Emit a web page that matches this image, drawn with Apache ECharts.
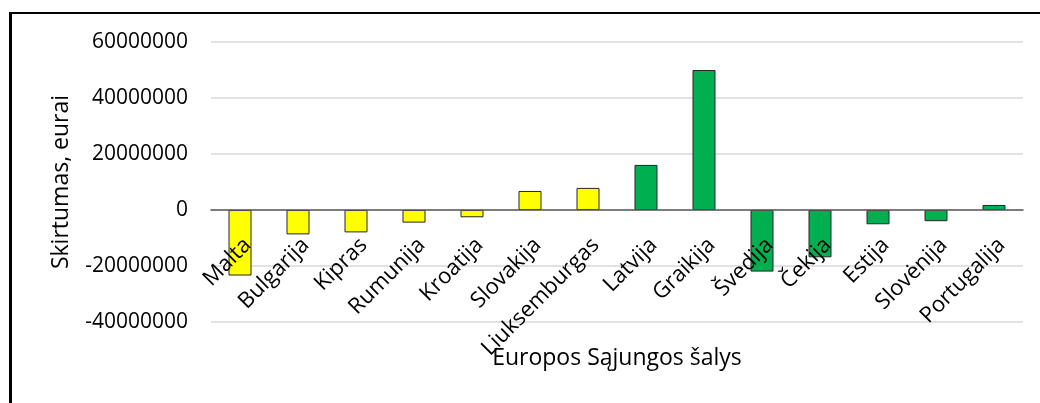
<!DOCTYPE html>
<html>
<head>
<meta charset="utf-8">
<script src="https://cdn.jsdelivr.net/npm/echarts@6/dist/echarts.min.js"></script>
<style>
  html, body { margin: 0; padding: 0; background: #fff; }
  #wrap { position: relative; width: 1040px; height: 403px; overflow: hidden; }
  #frame { position: absolute; left: 9px; top: 12px; width: 1100px; height: 500px;
           border-left: 3px solid #000; border-top: 2px solid #000; }
  #main { position: absolute; left: 0; top: 0; width: 1040px; height: 403px; }
</style>
</head>
<body>
<div id="wrap">
  <div id="frame"></div>
  <div id="main"></div>
</div>
<script>
// šalys ir skirtumai (eurai)
var salys = ["Malta", "Bulgarija", "Kipras", "Rumunija", "Kroatija", "Slovakija", "Liuksemburgas",
  "Latvija", "Graikija", "Švedija", "Čekija", "Estija", "Slovėnija", "Portugalija"];
var skirtumai = [-23400000, -8700000, -8000000, -4500000, -2600000, 6800000, 7900000,
  16100000, 50000000, -22000000, -16900000, -5100000, -4000000, 1800000];
// pirmos 7 šalys geltonos, kitos žalios
var spalvos = ["#ffff00", "#ffff00", "#ffff00", "#ffff00", "#ffff00", "#ffff00", "#ffff00",
  "#00b050", "#00b050", "#00b050", "#00b050", "#00b050", "#00b050", "#00b050"];

var font = "'Open Sans', 'Noto Sans', sans-serif";
var myChart = echarts.init(document.getElementById("main"));
myChart.setOption({
  animation: false,
  grid: { left: 211, right: 17, top: 42, bottom: 81, containLabel: false, outerBoundsMode: "none" },
  xAxis: {
    type: "category",
    data: salys,
    z: 5,
    // ašis ties nuliu (y = 210)
    offset: -112,
    name: "Europos Sąjungos šalys",
    nameLocation: "middle",
    nameGap: 137,
    nameMoveOverlap: false,
    nameTextStyle: { fontFamily: font, fontSize: 23, color: "#000" },
    axisLine: { onZero: false, lineStyle: { color: "#595959", width: 1.5 } },
    axisTick: { show: false },
    axisLabel: {
      rotate: 45, margin: 24, verticalAlign: "top",
      fontFamily: font, fontSize: 22, color: "#000", interval: 0
    }
  },
  yAxis: {
    type: "value",
    min: -40000000,
    max: 60000000,
    interval: 20000000,
    name: "Skirtumas, eurai",
    nameLocation: "middle",
    nameGap: 138,
    nameMoveOverlap: false,
    nameTextStyle: { fontFamily: font, fontSize: 23, color: "#000" },
    axisLine: { show: false },
    axisTick: { show: false },
    axisLabel: {
      margin: 23, fontFamily: font, fontSize: 21, color: "#000",
      formatter: function (v) { return String(v); }
    },
    splitLine: { lineStyle: { color: "#d9d9d9", width: 1.5 } }
  },
  series: [{
    name: "Skirtumas",
    type: "bar",
    barWidth: 23,
    data: skirtumai.map(function (v, i) {
      return { value: v, itemStyle: { color: spalvos[i] } };
    }),
    itemStyle: { borderColor: "#262626", borderWidth: 1 }
  }]
});
</script>
</body>
</html>
